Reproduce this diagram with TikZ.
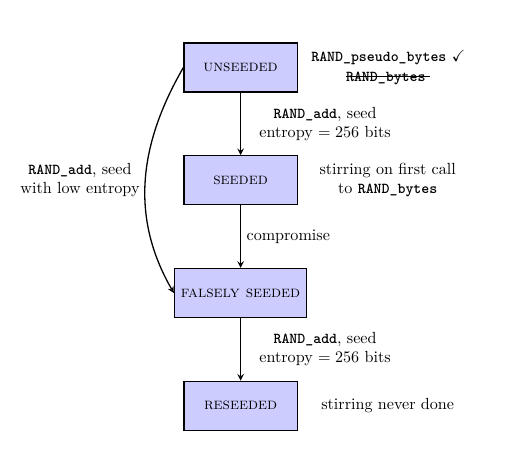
\documentclass[tikz,border=0pt]{standalone}
\usepackage{amssymb}
\usepackage{tikz}
\usetikzlibrary{arrows, positioning}
\tikzstyle{state} = [rectangle, minimum width=2.47cm, minimum height=1.07cm, inner xsep=4pt, text centered, draw=black, thick, fill=blue!20]
\tikzstyle{note} = [align=center]
\tikzstyle{arrow} = [thick,->,>=stealth]
\newcommand{\fn}[1]{{\fontsize{9.4}{11}\selectfont\ttfamily\bfseries #1}}
\newcommand{\struck}[1]{\setbox0=\hbox{#1}\rlap{\copy0}\rule[0.6ex]{\dimexpr\wd0+3pt\relax}{0.45pt}}

\begin{document}
\begin{tikzpicture}[node distance=2.46cm]
\useasboundingbox (0,0) rectangle (11.02,-10.0);

\node (unseeded) [state] at (5.25,-1.474) {\textsc{unseeded}};
\node (seeded) [state, below of=unseeded] {\textsc{seeded}};
\node (falsely) [state, below of=seeded] {\textsc{falsely seeded}};
\node (reseeded) [state, below of=falsely] {\textsc{reseeded}};

\node (unseedednote) [note, right=0.17cm of unseeded] {\fn{RAND\_pseudo\_bytes} $\checkmark$\\ \struck{\fn{RAND\_bytes}}};
\node (seedednote) [note, right=0.35cm of seeded] {stirring on first call\\ to \fn{RAND\_bytes}};
\node (reseedednote) [note, right=0.39cm of reseeded] {stirring never done};

\draw [arrow] (unseeded) -- node[right=8pt, align=center] {\fn{RAND\_add}, seed\\ entropy $=256$ bits} (seeded);
\draw [arrow] (seeded) -- node[right] {compromise} (falsely);
\draw [arrow] (falsely) -- node[right=8pt, align=center] {\fn{RAND\_add}, seed\\ entropy $=256$ bits} (reseeded);
\draw [arrow] (unseeded.west) to[out=240, in=120] node[left, align=center] {\fn{RAND\_add}, seed\\ with low entropy} (falsely.west);

\end{tikzpicture}
\end{document}
